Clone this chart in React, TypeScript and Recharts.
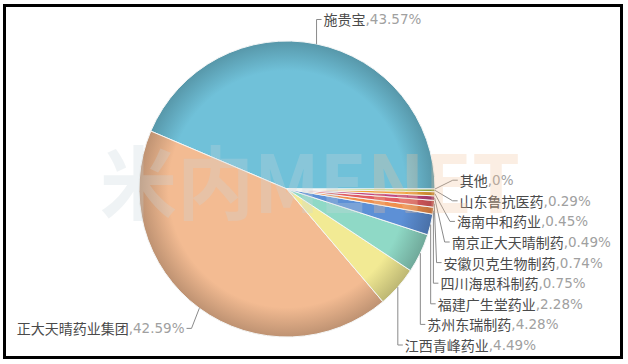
import React from "react";
import { PieChart, Pie, Cell } from "recharts";

// 市场份额（%）
const companies = [
  "施贵宝",
  "正大天晴药业集团",
  "江西青峰药业",
  "苏州东瑞制药",
  "福建广生堂药业",
  "四川海思科制药",
  "安徽贝克生物制药",
  "南京正大天晴制药",
  "海南中和药业",
  "山东鲁抗医药",
  "其他",
];
const shares = [43.57, 42.59, 4.49, 4.28, 2.28, 0.75, 0.74, 0.49, 0.45, 0.29, 0];
const sliceColors = [
  "#70c1d9",
  "#f3bb92",
  "#f2ea94",
  "#8fd9c6",
  "#5d90d6",
  "#f0904e",
  "#e25e62",
  "#c2467e",
  "#f2a43a",
  "#a9c24e",
  "#d8e0e4",
];

const W = 628;
const H = 364;
const CX = 287;
const CY = 189;
const R = 148;
const LABEL_R = R + 25;
const LINE_GAP = 20.6;
const LABEL_BOTTOM = 345;

const data = companies.map((name, i) => ({ name, value: shares[i] }));

function darken(hex: string, k: number) {
  const n = parseInt(hex.slice(1), 16);
  const f = (v: number) => Math.round(v * (1 - k));
  const r = f((n >> 16) & 255), g = f((n >> 8) & 255), b = f(n & 255);
  return `rgb(${r},${g},${b})`;
}

// label placement: each label starts at its natural spot on a ring outside the pie,
// then labels on the same side are pushed apart and kept above the bottom edge
function layoutLabels() {
  const total = shares.reduce((s, v) => s + v, 0);
  let start = 0;
  const items = shares.map((v, i) => {
    const sweep = (v / total) * 360;
    const mid = start + sweep / 2;
    start += sweep;
    const rad = (mid * Math.PI) / 180;
    return {
      i,
      right: Math.cos(rad) >= 0,
      ex: CX + R * Math.cos(rad),
      ey: CY - R * Math.sin(rad),
      y: CY - LABEL_R * Math.sin(rad),
      x: 0,
    };
  });
  for (const side of [true, false]) {
    const group = items.filter((d) => d.right === side).sort((a, b) => a.y - b.y);
    for (let k = 1; k < group.length; k++) {
      group[k].y = Math.max(group[k].y, group[k - 1].y + LINE_GAP);
    }
    for (let k = group.length - 1; k >= 0; k--) {
      const limit = k === group.length - 1 ? LABEL_BOTTOM : group[k + 1].y - LINE_GAP;
      group[k].y = Math.min(group[k].y, limit);
    }
  }
  items.forEach((d) => {
    const dy = d.y - CY;
    const span = Math.sqrt(Math.max(0, LABEL_R * LABEL_R - dy * dy));
    d.x = d.right ? Math.max(d.ex + 7, CX + span) : Math.min(d.ex - 7, CX - span);
  });
  return items;
}

const labelPos = layoutLabels();

const renderLabel = (props: any) => {
  const p = labelPos[props.index];
  if (!p) return null;
  const dir = p.right ? 1 : -1;
  return (
    <g key={`lbl-${props.index}`}>
      <path
        d={`M${p.ex},${p.ey}L${p.x - 7 * dir},${p.y}L${p.x - 2 * dir},${p.y}`}
        fill="none"
        stroke="#8a8a8a"
        strokeWidth={1}
      />
      <text
        x={p.x}
        y={p.y}
        textAnchor={p.right ? "start" : "end"}
        dominantBaseline="central"
        fontSize={14}
        fontFamily="'Noto Sans CJK SC', 'Noto Sans', sans-serif"
      >
        <tspan fill="#4a4a4a">{companies[props.index]}</tspan>
        <tspan fill="#a0a0a0" fontFamily="'DejaVu Sans', sans-serif" fontSize={13.5}>
          ,{shares[props.index]}%
        </tspan>
      </text>
    </g>
  );
};

export default function App() {
  return (
    <div style={{ position: "absolute", left: 0, top: 0, width: W, height: H, background: "#fff" }}>
      <PieChart width={W} height={H} margin={{ top: 0, right: 0, bottom: 0, left: 0 }}>
        <defs>
          {sliceColors.map((c, i) => (
            <radialGradient key={i} id={`shade${i}`} gradientUnits="userSpaceOnUse" cx={CX} cy={CY} r={R}>
              <stop offset="0%" stopColor={c} />
              <stop offset="80%" stopColor={c} />
              <stop offset="100%" stopColor={darken(c, 0.22)} />
            </radialGradient>
          ))}
        </defs>
        <Pie
          data={data}
          dataKey="value"
          nameKey="name"
          cx={CX}
          cy={CY}
          outerRadius={R}
          startAngle={0}
          endAngle={360}
          stroke="#f4f6f6"
          strokeWidth={1}
          label={renderLabel}
          labelLine={false}
          isAnimationActive={false}
        >
          {data.map((_, i) => (
            <Cell key={i} fill={`url(#shade${i})`} />
          ))}
        </Pie>
      </PieChart>

      {/* site watermark */}
      <svg
        width={W}
        height={H}
        style={{ position: "absolute", left: 0, top: 0, pointerEvents: "none" }}
      >
        <text
          x={100}
          y={213}
          fontSize={80}
          fontWeight="bold"
          fontFamily="'Noto Sans CJK SC', sans-serif"
          textLength={420}
          lengthAdjust="spacingAndGlyphs"
          opacity={0.28}
        >
          <tspan fill="#c9d6dc">米内ME</tspan>
          <tspan fill="#f3c49c">NET</tspan>
        </text>
      </svg>

      <div
        style={{
          position: "absolute",
          left: 3,
          top: 4,
          width: 620,
          height: 355,
          border: "3px solid #000",
          boxSizing: "border-box",
        }}
      />
    </div>
  );
}
